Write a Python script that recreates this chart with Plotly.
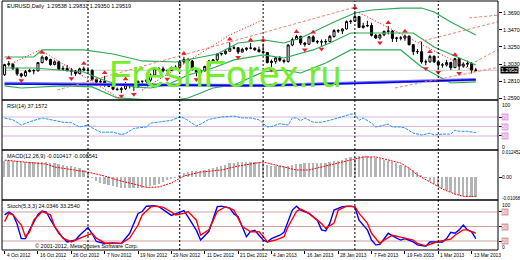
import plotly.graph_objects as go

# ---------------- data ----------------
tick_labels = ["4 Oct 2012", "16 Oct 2012", "26 Oct 2012", "7 Nov 2012", "19 Nov 2012",
               "29 Nov 2012", "11 Dec 2012", "21 Dec 2012", "4 Jan 2013", "16 Jan 2013",
               "28 Jan 2013", "7 Feb 2013", "19 Feb 2013", "1 Mar 2013", "13 Mar 2013"]
tick_index = [0, 8, 16, 24, 32, 40, 48, 56, 64, 72, 80, 88, 96, 104, 112]
month_start_index = [20, 42, 62, 84, 104]

opens = [1.2895, 1.3025, 1.3030, 1.2975, 1.2905, 1.2880, 1.2935, 1.2950, 1.2945, 1.3050,
         1.3120, 1.3090, 1.3025, 1.3060, 1.2965, 1.2975, 1.2945, 1.2940, 1.2910, 1.2970,
         1.2955, 1.2950, 1.2835, 1.2800, 1.2810, 1.2765, 1.2745, 1.2710, 1.2705, 1.2715,
         1.2765, 1.2760, 1.2740, 1.2810, 1.2810, 1.2825, 1.2890, 1.2975, 1.2970, 1.2945,
         1.2950, 1.2985, 1.2990, 1.3060, 1.3090, 1.3070, 1.2960, 1.2925, 1.2945, 1.3000,
         1.3070, 1.3085, 1.3160, 1.3165, 1.3195, 1.3235, 1.3240, 1.3185, 1.3220, 1.3235,
         1.3235, 1.3215, 1.3190, 1.3180, 1.3050, 1.3065, 1.3110, 1.3080, 1.3065, 1.3275,
         1.3345, 1.3385, 1.3300, 1.3285, 1.3380, 1.3320, 1.3315, 1.3315, 1.3320, 1.3385,
         1.3460, 1.3455, 1.3480, 1.3575, 1.3580, 1.3640, 1.3500, 1.3520, 1.3525, 1.3400,
         1.3365, 1.3405, 1.3450, 1.3455, 1.3360, 1.3365, 1.3365, 1.3390, 1.3280, 1.3190,
         1.3190, 1.3060, 1.3060, 1.3130, 1.3060, 1.3020, 1.3020, 1.3050, 1.2985, 1.3100,
         1.3005, 1.3030, 1.3040, 1.2954]
highs = [1.3035, 1.3070, 1.3040, 1.2990, 1.2920, 1.2955, 1.2970, 1.2965, 1.3055, 1.3140,
         1.3135, 1.3100, 1.3080, 1.3075, 1.3010, 1.3020, 1.2980, 1.2955, 1.2985, 1.3000,
         1.2990, 1.2965, 1.2850, 1.2840, 1.2880, 1.2790, 1.2770, 1.2730, 1.2740, 1.2800,
         1.2780, 1.2765, 1.2820, 1.2820, 1.2835, 1.2910, 1.2985, 1.2990, 1.3000, 1.2960,
         1.3000, 1.3015, 1.3075, 1.3125, 1.3110, 1.3085, 1.2975, 1.2960, 1.3010, 1.3085,
         1.3090, 1.3170, 1.3175, 1.3220, 1.3310, 1.3275, 1.3250, 1.3240, 1.3245, 1.3300,
         1.3245, 1.3255, 1.3295, 1.3185, 1.3090, 1.3120, 1.3135, 1.3090, 1.3285, 1.3370,
         1.3405, 1.3395, 1.3315, 1.3390, 1.3400, 1.3340, 1.3345, 1.3350, 1.3405, 1.3480,
         1.3480, 1.3490, 1.3590, 1.3600, 1.3711, 1.3645, 1.3560, 1.3585, 1.3560, 1.3415,
         1.3415, 1.3460, 1.3520, 1.3465, 1.3380, 1.3390, 1.3410, 1.3395, 1.3285, 1.3225,
         1.3320, 1.3090, 1.3150, 1.3145, 1.3065, 1.3045, 1.3085, 1.3060, 1.3110, 1.3110,
         1.3055, 1.3075, 1.3055, 1.2983]
lows = [1.2880, 1.3000, 1.2955, 1.2880, 1.2860, 1.2870, 1.2925, 1.2900, 1.2935, 1.3040,
        1.3070, 1.3010, 1.3015, 1.2955, 1.2950, 1.2940, 1.2885, 1.2880, 1.2900, 1.2940,
        1.2920, 1.2820, 1.2770, 1.2765, 1.2740, 1.2735, 1.2695, 1.2690, 1.2662, 1.2700,
        1.2720, 1.2685, 1.2725, 1.2750, 1.2775, 1.2805, 1.2880, 1.2940, 1.2925, 1.2880,
        1.2940, 1.2960, 1.2985, 1.3035, 1.3045, 1.2950, 1.2875, 1.2890, 1.2935, 1.2990,
        1.3040, 1.3060, 1.3140, 1.3150, 1.3190, 1.3220, 1.3160, 1.3180, 1.3200, 1.3220,
        1.3200, 1.3180, 1.3175, 1.3040, 1.2995, 1.3035, 1.3060, 1.3040, 1.3050, 1.3260,
        1.3340, 1.3275, 1.3255, 1.3280, 1.3310, 1.3290, 1.3265, 1.3280, 1.3310, 1.3370,
        1.3430, 1.3415, 1.3475, 1.3545, 1.3570, 1.3495, 1.3485, 1.3505, 1.3385, 1.3355,
        1.3345, 1.3390, 1.3410, 1.3315, 1.3315, 1.3335, 1.3330, 1.3270, 1.3145, 1.3160,
        1.3035, 1.3015, 1.3050, 1.3045, 1.2965, 1.2985, 1.3000, 1.2955, 1.2980, 1.2955,
        1.2985, 1.2995, 1.2910, 1.2935]
closes = [1.3025, 1.3035, 1.2975, 1.2905, 1.2880, 1.2935, 1.2950, 1.2945, 1.3050, 1.3120,
          1.3090, 1.3025, 1.3060, 1.2965, 1.2975, 1.2945, 1.2940, 1.2910, 1.2970, 1.2955,
          1.2950, 1.2835, 1.2800, 1.2810, 1.2765, 1.2745, 1.2710, 1.2705, 1.2715, 1.2765,
          1.2760, 1.2740, 1.2810, 1.2810, 1.2825, 1.2890, 1.2975, 1.2970, 1.2945, 1.2950,
          1.2985, 1.2990, 1.3060, 1.3090, 1.3070, 1.2960, 1.2925, 1.2945, 1.3000, 1.3070,
          1.3085, 1.3160, 1.3165, 1.3195, 1.3235, 1.3240, 1.3185, 1.3220, 1.3235, 1.3235,
          1.3215, 1.3190, 1.3180, 1.3050, 1.3065, 1.3110, 1.3080, 1.3065, 1.3275, 1.3345,
          1.3385, 1.3300, 1.3285, 1.3380, 1.3320, 1.3315, 1.3315, 1.3320, 1.3385, 1.3460,
          1.3455, 1.3480, 1.3575, 1.3580, 1.3640, 1.3500, 1.3520, 1.3525, 1.3400, 1.3365,
          1.3405, 1.3450, 1.3455, 1.3360, 1.3365, 1.3365, 1.3390, 1.3280, 1.3190, 1.3190,
          1.3060, 1.3060, 1.3130, 1.3060, 1.3020, 1.3020, 1.3050, 1.2985, 1.3100, 1.3005,
          1.3030, 1.3040, 1.2955, 1.2952]

up_fractal_index = [1, 9, 19, 24, 29, 43, 54, 59, 62, 70, 74, 84, 92, 96, 102, 108]
down_fractal_index = [4, 16, 28, 31, 39, 46, 56, 64, 72, 76, 90, 101, 104, 109]

bb_upper_index = [0, 7, 9, 19, 26, 33, 41, 47, 51, 56, 62, 67, 71, 79, 84, 88, 95, 100, 103, 107, 113]
bb_upper = [1.3122, 1.3122, 1.3212, 1.3212, 1.3160, 1.3071, 1.3058, 1.3122, 1.3160, 1.3301,
            1.3340, 1.3301, 1.3365, 1.3570, 1.3685, 1.3724, 1.3749, 1.3749, 1.3698, 1.3570, 1.3404]
bb_mid_index = [0, 7, 10, 19, 23, 26, 31, 35, 39, 44, 50, 55, 62, 67, 74, 78, 83, 88, 98, 103, 113]
bb_mid = [1.2981, 1.2981, 1.2968, 1.2930, 1.2840, 1.2789, 1.2738, 1.2725, 1.2764, 1.2892,
          1.2981, 1.3084, 1.3148, 1.3109, 1.3212, 1.3301, 1.3429, 1.3429, 1.3429, 1.3250, 1.3020]
bb_lower_index = [0, 4, 14, 21, 27, 35, 41, 44, 50, 55, 62, 67, 71, 77, 83, 95, 100, 107, 113]
bb_lower = [1.2751, 1.2725, 1.2751, 1.2738, 1.2597, 1.2571, 1.2571, 1.2597, 1.2725, 1.2764,
            1.2930, 1.2956, 1.2917, 1.3045, 1.3212, 1.3212, 1.2994, 1.2789, 1.2802]

ma_slow_index = [0, 40, 62, 85, 113]
ma_slow = [1.2776, 1.2760, 1.2755, 1.2785, 1.2830]
ma_fast_index = [0, 20, 40, 62, 85, 100, 113]
ma_fast = [1.2785, 1.2770, 1.2762, 1.2758, 1.2790, 1.2808, 1.2834]

zigzag_index = [1, 8.5, 27.4]
zigzag_price = [1.3020, 1.3212, 1.2597]
trend_up_index = [33, 54, 62]
trend_up_price = [1.2699, 1.3404, 1.3600]
trend_down_index = [85, 113]
trend_down_price = [1.3690, 1.2930]

channel_index = [[12.6, 84], [93.6, 118.8], [112.8, 118.8], [99.4, 118.8], [111.4, 118.8]]
channel_price = [[1.2699, 1.3760], [1.2725, 1.2994], [1.3058, 1.3230], [1.3314, 1.3580], [1.3622, 1.3660]]

bid_price = 1.2952
price_ticks = [1.3690, 1.3470, 1.3250, 1.3030, 1.2810, 1.2590]

rsi_index = [0, 2, 4, 6, 9, 12, 14, 16, 18, 20, 21, 23, 26, 28, 29, 31, 34, 35, 37, 40, 42, 43, 46,
             47, 49, 52, 55, 57, 59, 61, 63, 64, 66, 68, 69, 70, 71, 72, 74, 76, 78, 80, 81, 83,
             84, 85, 86, 88, 89, 91, 92, 93, 95, 96, 97, 98, 100, 102, 103, 105, 107, 108, 109,
             111, 113]
rsi_value = [68, 64, 53, 60, 68, 62, 59, 58, 49, 53, 47, 38, 38, 33, 35, 46, 49, 57, 59, 63, 70,
             68, 51, 55, 65, 70, 72, 68, 68, 64, 49, 50, 56, 53, 68, 68, 62, 68, 59, 59, 63, 68,
             70, 76, 76, 63, 68, 57, 49, 53, 55, 49, 49, 47, 42, 36, 32, 36, 32, 34, 34, 42, 40,
             40, 37]
rsi_levels = [70, 50, 30]

macd_hist_e4 = [77, 77, 76, 75, 74, 74, 73, 72, 71, 71, 70, 68, 65, 62, 58, 55, 51, 47, 43, 36,
                24, -4, -19, -26, -33, -38, -42, -46, -50, -51, -52, -53, -52, -50, -47, -43, -38,
                -32, -23, -16, -9, -2, 10, 18, 24, 27, 29, 31, 34, 38, 43, 49, 55, 60, 65, 68, 70,
                71, 72, 72, 72, 70, 67, 60, 55, 52, 51, 52, 55, 58, 62, 64, 65, 66, 67, 67, 67, 69,
                72, 75, 79, 84, 89, 94, 98, 100, 100, 99, 96, 91, 86, 81, 77, 72, 67, 60, 53, 44,
                34, 22, 10, -4, -19, -31, -42, -52, -62, -72, -81, -86, -90, -93, -95, -97]
macd_signal_index = [0, 5, 10, 12, 20, 24, 28, 32, 34, 37, 40, 43, 47, 52, 56, 62, 66, 70, 73, 76,
                     79, 82, 86, 89, 92, 95, 97, 99, 102, 105, 108, 110, 113]
macd_signal_e4 = [81, 72, 62, 48, 24, 5, -19, -38, -50, -47, -28, 5, 24, 34, 53, 72, 53, 34, 34,
                  48, 62, 77, 96, 96, 81, 67, 43, 10, -23, -57, -81, -92, -92]

stoch_k_index = [0, 1, 2, 3, 4, 5, 6, 8, 9, 10, 11, 13, 15, 17, 18, 20, 21, 22, 24, 26, 28, 30, 32,
                 33, 34, 35, 36, 37, 39, 40, 41, 43, 44, 46, 47, 48, 49, 51, 52, 54, 55, 56, 58, 59,
                 60, 61, 62, 63, 64, 66, 67, 69, 70, 71, 73, 75, 76, 77, 78, 79, 80, 81, 83, 84, 85,
                 87, 88, 89, 90, 92, 94, 95, 96, 98, 99, 101, 102, 103, 105, 106, 107, 108, 109,
                 110, 111, 112, 113]
stoch_k = [74, 80, 75, 55, 25, 25, 43, 75, 82, 80, 64, 36, 18, 22, 32, 48, 35, 19, 15, 16, 15, 36,
           77, 81, 92, 93, 93, 91, 80, 73, 76, 83, 70, 42, 22, 30, 40, 91, 92, 88, 76, 70, 29, 40,
           42, 32, 22, 18, 25, 32, 38, 84, 92, 84, 77, 63, 43, 41, 57, 84, 88, 91, 92, 90, 63, 43,
           22, 12, 13, 36, 26, 22, 25, 18, 12, 9, 18, 18, 18, 25, 38, 36, 43, 53, 43, 39, 25]
stoch_d_index = [0, 1, 2, 4, 5, 6, 7, 9, 11, 12, 14, 16, 19, 21, 22, 24, 26, 28, 30, 32, 33, 35,
                 36, 38, 40, 41, 43, 44, 46, 47, 49, 51, 53, 55, 57, 59, 61, 62, 63, 65, 67, 68, 70,
                 71, 73, 76, 77, 79, 80, 82, 84, 85, 87, 88, 90, 91, 93, 95, 96, 98, 99, 101, 103,
                 104, 107, 108, 110, 111, 113]
stoch_d = [60, 77, 74, 53, 29, 39, 63, 81, 74, 50, 26, 18, 29, 36, 26, 16, 15, 15, 26, 53, 74, 90,
           92, 90, 80, 74, 77, 81, 63, 32, 43, 81, 91, 84, 50, 39, 39, 30, 18, 22, 29, 50, 81, 86,
           77, 56, 46, 57, 84, 92, 91, 77, 57, 36, 15, 22, 32, 29, 26, 22, 15, 10, 15, 19, 24, 32,
           43, 43, 36]
stoch_levels = [80, 50, 20]

header_main = "EURUSD,Daily  1.29538 1.29831 1.29350 1.29519"
header_rsi = "RSI(14) 37.1572"
header_macd = "MACD(12,26,9) -0.010417 -0.008541"
header_stoch = "Stoch(5,3,3) 24.0346 33.2540"
macd_top_label = "0.012452"
macd_zero_label = "0.00"
macd_bottom_label = "-0.01068"
copyright_text = "\u00a9 2001-2012, MetaQuotes Software Corp."
watermark = "FreshForex.ru"

# ---------------- figure ----------------
N = len(closes)
bars = list(range(N))
FONT = "Liberation Sans, Arial, sans-serif"

fig = go.Figure()

for xi, yi in [(bb_upper_index, bb_upper), (bb_mid_index, bb_mid), (bb_lower_index, bb_lower)]:
    fig.add_trace(go.Scatter(x=xi, y=yi, mode="lines", line=dict(color="#2eaa55", width=1.2),
                             xaxis="x", yaxis="y", hoverinfo="skip"))

fig.add_trace(go.Scatter(x=ma_fast_index, y=ma_fast, mode="lines",
                         line=dict(color="#7878f0", width=3), xaxis="x", yaxis="y", hoverinfo="skip"))
fig.add_trace(go.Scatter(x=ma_slow_index, y=ma_slow, mode="lines",
                         line=dict(color="#0000ee", width=1.6), xaxis="x", yaxis="y", hoverinfo="skip"))

for xi, yi in zip(channel_index, channel_price):
    fig.add_trace(go.Scatter(x=xi, y=yi, mode="lines", line=dict(color="#f08070", width=1, dash="3px,2px"),
                             xaxis="x", yaxis="y", hoverinfo="skip"))
for xi, yi in [(zigzag_index, zigzag_price), (trend_up_index, trend_up_price),
               (trend_down_index, trend_down_price)]:
    fig.add_trace(go.Scatter(x=xi, y=yi, mode="lines", line=dict(color="#ff0000", width=1, dash="1px,2px"),
                             xaxis="x", yaxis="y", hoverinfo="skip"))

fig.add_trace(go.Candlestick(
    x=bars, open=opens, high=highs, low=lows, close=closes, xaxis="x", yaxis="y",
    increasing=dict(line=dict(color="#000000", width=1), fillcolor="#ffffff"),
    decreasing=dict(line=dict(color="#000000", width=1), fillcolor="#000000"),
    whiskerwidth=0, hoverinfo="skip"))

arrow_gap = 0.004
fig.add_trace(go.Scatter(x=up_fractal_index, y=[highs[i] + arrow_gap for i in up_fractal_index],
                         mode="markers", marker=dict(symbol="triangle-up", size=5, color="#e8202a"),
                         xaxis="x", yaxis="y", hoverinfo="skip"))
fig.add_trace(go.Scatter(x=down_fractal_index, y=[lows[i] - arrow_gap for i in down_fractal_index],
                         mode="markers", marker=dict(symbol="triangle-down", size=5, color="#e8202a"),
                         xaxis="x", yaxis="y", hoverinfo="skip"))

fig.add_trace(go.Scatter(x=rsi_index, y=rsi_value, mode="lines",
                         line=dict(color="#1e90ff", width=1, dash="3px,1px"), xaxis="x", yaxis="y2",
                         hoverinfo="skip"))

fig.add_trace(go.Bar(x=bars, y=[v * 1e-4 for v in macd_hist_e4], marker=dict(color="#b4b4b4", line=dict(width=0)),
                     width=0.42, xaxis="x", yaxis="y3", hoverinfo="skip"))
fig.add_trace(go.Scatter(x=macd_signal_index, y=[v * 1e-4 for v in macd_signal_e4], mode="lines",
                         line=dict(color="#ff0000", width=1, dash="2px,1px"), xaxis="x", yaxis="y3",
                         hoverinfo="skip"))

fig.add_trace(go.Scatter(x=stoch_k_index, y=stoch_k, mode="lines", line=dict(color="#0000ff", width=1.4),
                         xaxis="x", yaxis="y4", hoverinfo="skip"))
fig.add_trace(go.Scatter(x=stoch_d_index, y=stoch_d, mode="lines", line=dict(color="#ff0000", width=1.4),
                         xaxis="x", yaxis="y4", hoverinfo="skip"))

# ---------------- layout ----------------
px_per_bar = 4.17
first_px = 2.6
plot_w = 496
x_lo = (0 - first_px) / px_per_bar
x_hi = x_lo + plot_w / px_per_bar

main_rng = [1.2571, 1.3839]
rsi_rng = [0.5, 105.8]
macd_rng = [-0.01092, 0.01293]
stoch_rng = [1.4, 104.8]

d_main = [0.6024, 1.0]
d_rsi = [0.4016, 0.6024]
d_macd = [0.2008, 0.4016]
d_stoch = [0.0, 0.2008]

common_y = dict(showgrid=False, zeroline=False, side="right", anchor="x", fixedrange=True,
                ticks="outside", ticklen=3, tickcolor="#000000", tickwidth=1,
                tickfont=dict(family=FONT, size=5.5, color="#000000"))

fig.update_layout(
    width=520, height=260, margin=dict(l=2, r=22, t=1, b=10),
    paper_bgcolor="#ffffff", plot_bgcolor="#ffffff", showlegend=False, bargap=0,
    xaxis=dict(range=[x_lo, x_hi], showgrid=False, zeroline=False, anchor="y4",
               tickvals=tick_index, ticks="outside", ticklen=3, tickcolor="#000000",
               showticklabels=False, rangeslider=dict(visible=False), fixedrange=True),
    yaxis=dict(domain=d_main, range=main_rng, tickvals=price_ticks,
               ticktext=[f"{v:.4f}" for v in price_ticks], **common_y),
    yaxis2=dict(domain=d_rsi, range=rsi_rng, tickvals=rsi_levels, showticklabels=False, **common_y),
    yaxis3=dict(domain=d_macd, range=macd_rng, tickvals=[0], showticklabels=False, **common_y),
    yaxis4=dict(domain=d_stoch, range=stoch_rng, tickvals=stoch_levels, showticklabels=False, **common_y),
)

shapes = []
for lv in rsi_levels:
    shapes.append(dict(type="line", xref="paper", x0=0, x1=1, yref="y2", y0=lv, y1=lv,
                       line=dict(color="#dcb4dc", width=1), layer="below"))
for lv in stoch_levels:
    shapes.append(dict(type="line", xref="paper", x0=0, x1=1, yref="y4", y0=lv, y1=lv,
                       line=dict(color="#d2a0a0", width=1), layer="below"))
shapes.append(dict(type="line", xref="paper", x0=0, x1=1, yref="y", y0=bid_price, y1=bid_price,
                   line=dict(color="#c8c8c8", width=1), layer="below"))
for m in month_start_index:
    shapes.append(dict(type="line", xref="x", x0=m, x1=m, yref="paper", y0=0, y1=1,
                       line=dict(color="#000000", width=1, dash="2px,2px")))
for yb in [d_rsi[1], d_macd[1], d_stoch[1]]:
    shapes.append(dict(type="line", xref="paper", x0=0, x1=1, yref="paper", y0=yb, y1=yb,
                       line=dict(color="#000000", width=1.5)))
shapes.append(dict(type="rect", xref="paper", x0=0, x1=1, yref="paper", y0=0, y1=1,
                   line=dict(color="#000000", width=1), fillcolor="rgba(0,0,0,0)"))
fig.update_layout(shapes=shapes)

ann = []
def label(text, x, y, xref="paper", yref="paper", size=6, color="#000000", xanchor="left",
          yanchor="middle", family=FONT, **kw):
    ann.append(dict(text=text, x=x, y=y, xref=xref, yref=yref, showarrow=False, xanchor=xanchor,
                    yanchor=yanchor, font=dict(family=family, size=size, color=color), **kw))

label(watermark, 0.45, 0.705, size=37, color="#72ee2a", xanchor="center")

label(header_main, 0.006, 0.978, size=5.5)
label(header_rsi, 0.006, d_rsi[1] - 0.025, size=5.5)
label(header_macd, 0.006, d_macd[1] - 0.025, size=5.5)
label(header_stoch, 0.006, d_stoch[1] - 0.025, size=5.5)
label(copyright_text, 0.063, 0.015, size=5.5)

label(f"{bid_price:.4f}", 1.004, bid_price, yref="y", size=5.5, color="#ffffff", bgcolor="#000000", borderpad=0)
label("100", 1.004, 96, yref="y2", size=5)
label("0", 1.004, 7, yref="y2", size=5)
for lv in rsi_levels:
    label(str(lv), 1.006, lv, yref="y2", size=5, color="#ffffff", bgcolor="#e4a4e4", borderpad=0)
label(macd_top_label, 1.004, 0.0117, yref="y3", size=4.6)
label(macd_zero_label, 1.004, 0.0, yref="y3", size=5)
label(macd_bottom_label, 1.004, -0.0102, yref="y3", size=4.6)
label("100", 1.004, 95, yref="y4", size=5)
label("0", 1.004, 7, yref="y4", size=5)
for lv in stoch_levels:
    label(str(lv), 1.006, lv, yref="y4", size=5, color="#ffffff", bgcolor="#d8a0a0", borderpad=0)

for i, t in zip(tick_index, tick_labels):
    label(t, i, -0.006, xref="x", yanchor="top", size=4.8)

fig.update_layout(annotations=ann)
fig.write_html("out.html")
